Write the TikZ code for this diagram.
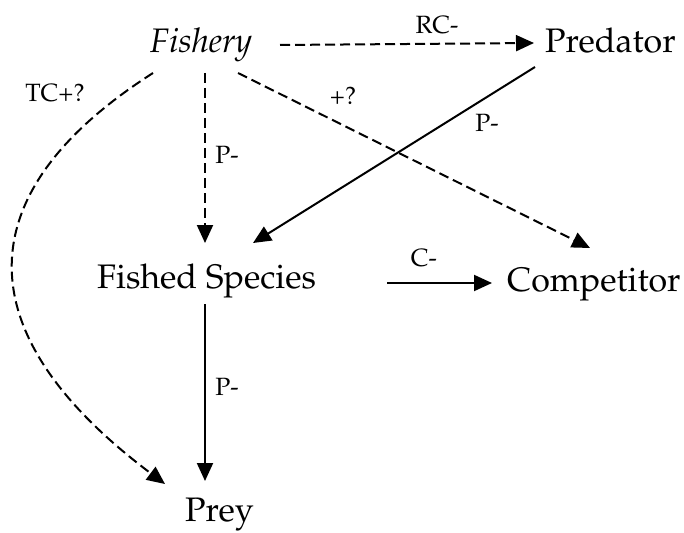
\documentclass[tikz,border=0pt]{standalone}
\usepackage[T1]{fontenc}
\usepackage{mathpazo}
\usetikzlibrary{arrows.meta,calc}
\tikzset{
  big/.style={inner sep=0pt,anchor=base west,font=\fontsize{34}{39}\selectfont},
  lbl/.style={inner sep=0pt,font=\fontsize{25}{29}\selectfont},
  conn/.style={line width=2pt,-{Triangle[length=18pt,width=16pt]}},
  dsh/.style={conn,dash pattern=on 10pt off 5pt}
}
\begin{document}
\begin{tikzpicture}[x=1pt,y=-1pt]
\useasboundingbox (0,0) rectangle (684,532);
\node[big] (fishery) at (150,53) {\itshape Fishery};
\node[big] (pred) at (545,53) {Predator};
\node[big] (fished) at (97,288) {Fished Species};
\node[big] (comp) at (507,291) {Competitor};
\node[big] (prey) at (185,521) {Prey};

\draw[dsh] ($(fishery.base west)+(130,-8)$) -- ($(pred.base west)+(-11,-10)$);
\draw[dsh] ($(fishery.base west)+(55,20)$) -- ($(fished.base west)+(108,-45)$);
\draw[dsh] ($(fishery.base west)+(88,20)$) -- ($(comp.base west)+(83,-43)$);
\draw[dsh] ($(fishery.base west)+(3,20)$) .. controls (-30,190) and (-40,330) .. ($(prey.base west)+(-20,-37)$);
\draw[conn] ($(pred.base west)+(-10,14)$) -- ($(fished.base west)+(156,-45)$);
\draw[conn] ($(fished.base west)+(108,16)$) -- ($(prey.base west)+(20,-40)$);
\draw[conn] ($(fished.base west)+(290,-5)$) -- ($(comp.base west)+(-15,-8)$);

\node[lbl] (lrc) at (437,25) {RC-};
\node[lbl] (lp1) at (227,155) {P-};
\node[lbl] (lplus) at (343,96) {+?};
\node[lbl] (lp2) at (487,123) {P-};
\node[lbl] (ltc) at (55,93) {TC+?};
\node[lbl] (lc) at (424,258) {C-};
\node[lbl] (lp3) at (227,387) {P-};
\end{tikzpicture}
\end{document}
